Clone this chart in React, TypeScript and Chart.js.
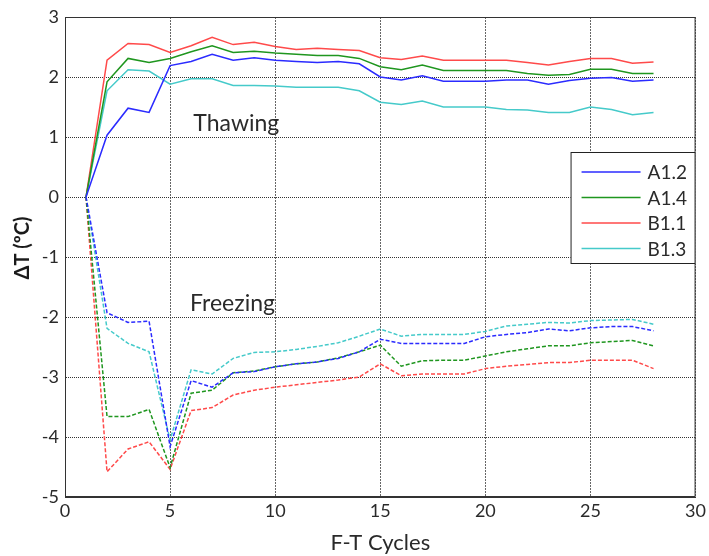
import React, { useEffect, useRef } from "react";
import { Chart, registerables } from "chart.js";

Chart.register(...registerables);

const cycles = [1, 2, 3, 4, 5, 6, 7, 8, 9, 10, 11, 12, 13, 14, 15, 16, 17, 18, 19, 20, 21, 22, 23, 24, 25, 26, 27, 28];

const seriesNames = ["A1.2", "A1.4", "B1.1", "B1.3"];
const seriesColors = ["#2b2bff", "#1f961f", "#ff4a4a", "#45caca"];

// Thawing (solid lines)
const thawA12 = [0, 1.03, 1.48, 1.41, 2.19, 2.26, 2.38, 2.28, 2.32, 2.28, 2.26, 2.24, 2.26, 2.22, 2.0, 1.95, 2.02, 1.93, 1.93, 1.93, 1.95, 1.95, 1.88, 1.94, 1.98, 1.99, 1.93, 1.95];
const thawA14 = [0, 1.92, 2.31, 2.24, 2.31, 2.42, 2.52, 2.41, 2.43, 2.4, 2.38, 2.36, 2.36, 2.31, 2.17, 2.12, 2.2, 2.11, 2.11, 2.11, 2.11, 2.06, 2.03, 2.04, 2.13, 2.13, 2.06, 2.06];
const thawB11 = [0, 2.28, 2.56, 2.54, 2.41, 2.52, 2.66, 2.54, 2.58, 2.51, 2.46, 2.48, 2.46, 2.44, 2.32, 2.29, 2.35, 2.28, 2.28, 2.28, 2.28, 2.24, 2.2, 2.26, 2.31, 2.31, 2.23, 2.25];
const thawB13 = [0, 1.77, 2.12, 2.1, 1.88, 1.97, 1.97, 1.86, 1.86, 1.85, 1.83, 1.83, 1.83, 1.77, 1.58, 1.54, 1.6, 1.5, 1.5, 1.5, 1.46, 1.45, 1.41, 1.41, 1.5, 1.46, 1.37, 1.41];

// Freezing (dashed lines)
const frzA12 = [0, -1.93, -2.09, -2.07, -4.16, -3.06, -3.17, -2.93, -2.91, -2.83, -2.78, -2.75, -2.69, -2.58, -2.37, -2.44, -2.44, -2.44, -2.44, -2.33, -2.29, -2.26, -2.2, -2.23, -2.18, -2.16, -2.16, -2.23];
const frzA14 = [0, -3.66, -3.66, -3.54, -4.51, -3.27, -3.22, -2.93, -2.9, -2.83, -2.78, -2.75, -2.68, -2.58, -2.47, -2.82, -2.73, -2.72, -2.72, -2.65, -2.58, -2.53, -2.48, -2.48, -2.43, -2.41, -2.39, -2.48];
const frzB11 = [0, -4.58, -4.2, -4.08, -4.54, -3.56, -3.51, -3.3, -3.22, -3.17, -3.13, -3.09, -3.05, -3.0, -2.78, -2.98, -2.95, -2.95, -2.95, -2.86, -2.82, -2.79, -2.76, -2.76, -2.72, -2.72, -2.72, -2.86];
const frzB13 = [0, -2.19, -2.44, -2.58, -4.05, -2.88, -2.95, -2.69, -2.59, -2.58, -2.54, -2.49, -2.43, -2.32, -2.2, -2.32, -2.29, -2.29, -2.29, -2.24, -2.15, -2.12, -2.09, -2.1, -2.06, -2.05, -2.04, -2.12];

const thawing = [thawA12, thawA14, thawB11, thawB13];
const freezing = [frzA12, frzA14, frzB11, frzB13];

const xTicks = [0, 5, 10, 15, 20, 25, 30];
const yTicks = [-5, -4, -3, -2, -1, 0, 1, 2, 3];

const FONT = "Lato, 'Open Sans', sans-serif";
const TEXT = "#2a2a2a";

const overlayPlugin = {
  id: "overlay",
  afterDatasetsDraw(chart: any) {
    const { ctx, chartArea, scales } = chart;
    const xs = scales.x;
    const ys = scales.y;
    ctx.save();
    // frame
    ctx.setLineDash([]);
    ctx.strokeStyle = "#333";
    ctx.lineWidth = 1;
    ctx.strokeRect(chartArea.left + 0.5, chartArea.top + 0.5, chartArea.right - chartArea.left - 1, chartArea.bottom - chartArea.top - 1);
    // annotations
    ctx.fillStyle = TEXT;
    ctx.font = `23px ${FONT}`;
    ctx.textAlign = "center";
    ctx.textBaseline = "middle";
    ctx.fillText("Thawing", xs.getPixelForValue(8.15), ys.getPixelForValue(1.23));
    ctx.fillText("Freezing", xs.getPixelForValue(7.97), ys.getPixelForValue(-1.77));
    // legend
    const bw = 125, bh = 112;
    const bx = chartArea.right - bw;
    const by = chartArea.top + 135;
    ctx.fillStyle = "#fff";
    ctx.fillRect(bx, by, bw, bh);
    ctx.strokeStyle = "#222";
    ctx.strokeRect(bx + 0.5, by + 0.5, bw - 1, bh - 1);
    ctx.font = `19px ${FONT}`;
    ctx.textAlign = "left";
    seriesNames.forEach((name, i) => {
      const yy = by + 20 + i * 25.5;
      ctx.strokeStyle = seriesColors[i];
      ctx.lineWidth = 1.5;
      ctx.beginPath();
      ctx.moveTo(bx + 11, yy);
      ctx.lineTo(bx + 70, yy);
      ctx.stroke();
      ctx.fillStyle = TEXT;
      ctx.fillText(name, bx + 77, yy + 1);
    });
    // y axis title
    ctx.translate(23, 248);
    ctx.rotate(-Math.PI / 2);
    ctx.textAlign = "center";
    ctx.font = `bold 20px ${FONT}`;
    ctx.fillStyle = "#1a1a1a";
    ctx.fillText("ΔT (ºC)", 0, 0);
    ctx.restore();
  },
};

export default function App() {
  const ref = useRef<HTMLCanvasElement>(null);
  useEffect(() => {
    const datasets: any[] = [];
    thawing.forEach((vals, i) => {
      datasets.push({
        label: seriesNames[i],
        data: cycles.map((c, j) => ({ x: c, y: vals[j] })),
        borderColor: seriesColors[i],
        borderWidth: 1.5,
        pointRadius: 0,
        tension: 0,
      });
    });
    freezing.forEach((vals, i) => {
      datasets.push({
        label: seriesNames[i] + " freezing",
        data: cycles.map((c, j) => ({ x: c, y: vals[j] })),
        borderColor: seriesColors[i],
        borderWidth: 1.5,
        borderDash: [4, 2],
        pointRadius: 0,
        tension: 0,
      });
    });
    const chart = new Chart(ref.current!, {
      type: "line",
      data: { datasets },
      options: {
        animation: false,
        responsive: false,
        layout: { padding: { top: 17, right: 12, left: 0, bottom: 0 } },
        plugins: { legend: { display: false }, tooltip: { enabled: false } },
        scales: {
          x: {
            type: "linear",
            min: 0,
            max: 30,
            afterBuildTicks: (s: any) => {
              s.ticks = xTicks.map((v) => ({ value: v }));
            },
            afterFit: (s: any) => {
              s.height = 59;
            },
            grid: { color: "#666", lineWidth: 1, drawTicks: false },
            border: { display: true, color: "#333", dash: [2, 1] },
            ticks: { color: TEXT, font: { family: FONT, size: 18 }, padding: 3, maxRotation: 0 },
            title: { display: true, text: "F-T Cycles", color: TEXT, font: { family: FONT, size: 22 }, padding: { top: 0, bottom: 0 } },
          },
          y: {
            type: "linear",
            min: -5,
            max: 3,
            afterBuildTicks: (s: any) => {
              s.ticks = yTicks.map((v) => ({ value: v }));
            },
            afterFit: (s: any) => {
              s.width = 65;
            },
            grid: { color: "#333", lineWidth: 1, drawTicks: false },
            border: { display: true, color: "#333", dash: [1, 1] },
            ticks: { color: TEXT, font: { family: FONT, size: 18 }, padding: 6 },
            title: { display: false },
          },
        },
      },
      plugins: [overlayPlugin],
    });
    return () => chart.destroy();
  }, []);
  return (
    <div style={{ position: "fixed", left: 0, top: 0, width: 709, height: 556, background: "#fff" }}>
      <canvas ref={ref} width={709} height={556} />
    </div>
  );
}
